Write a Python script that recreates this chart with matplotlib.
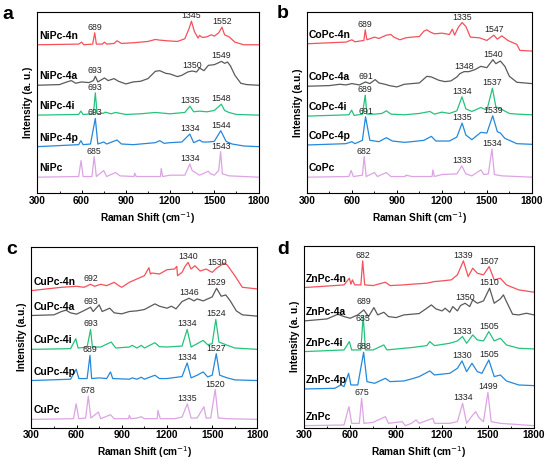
import numpy as np
import matplotlib
matplotlib.use('Agg')
import matplotlib.pyplot as plt
from matplotlib.ticker import MultipleLocator

plt.rcParams['font.family'] = ['Liberation Sans', 'DejaVu Sans']

# colours top -> bottom
colors = ['#f5505c', '#5a5a5a', '#25c27c', '#2488dc', '#dca4e4']

# ---------------- panel a : NiPc ----------------
names_a = ['NiPc-4n', 'NiPc-4a', 'NiPc-4i', 'NiPc-4p', 'NiPc']
offsets_a = [447, 325, 235, 140, 48]
spec_a = [
    ([300, 580, 600, 615, 675, 689, 700, 740, 755, 770, 820, 840, 870, 950, 1000, 1050, 1100, 1130, 1180, 1250, 1300,
      1330, 1345, 1365, 1390, 1400, 1420, 1450, 1480, 1500, 1530, 1552, 1570, 1600, 1640, 1700, 1800],
     [0, 2, 8, 0, 2, 36, 2, 2, 8, 2, 4, 12, 4, 6, 8, 10, 16, 14, 12, 10, 18,
      50, 71, 40, 20, 28, 22, 24, 30, 26, 36, 53, 30, 24, 8, 0, 0]),
    ([300, 450, 500, 530, 560, 600, 650, 680, 693, 710, 755, 780, 820, 850, 900, 950, 1000, 1050, 1100, 1130, 1170,
      1200, 1250, 1280, 1320, 1350, 1380, 1400, 1430, 1460, 1500, 1520, 1549, 1570, 1590, 1610, 1640, 1680, 1720, 1800],
     [0, 2, 10, 14, 6, 10, 8, 14, 27, 10, 22, 14, 20, 12, 4, 10, 12, 20, 42, 44, 36,
      34, 26, 30, 40, 43, 40, 52, 44, 60, 62, 66, 72, 66, 70, 58, 30, 6, 2, 0]),
    ([300, 580, 595, 610, 680, 693, 705, 750, 760, 800, 830, 900, 1000, 1100, 1200, 1300, 1335, 1360, 1400, 1450,
      1500, 1548, 1570, 1600, 1650, 1800],
     [0, 2, 12, 2, 4, 67, 4, 6, 9, 4, 8, 2, 4, 8, 4, 8, 27, 10, 12, 10,
      14, 33, 14, 8, 2, 0]),
    ([300, 580, 595, 610, 660, 693, 710, 750, 770, 840, 870, 950, 1000, 1050, 1100, 1130, 1160, 1200, 1280, 1334,
      1360, 1400, 1420, 1460, 1500, 1544, 1580, 1620, 1700, 1800],
     [0, 6, 18, 6, 8, 85, 8, 14, 8, 20, 8, 6, 8, 10, 12, 18, 10, 12, 14, 38,
      12, 20, 14, 14, 16, 48, 16, 8, 2, 0]),
    ([300, 580, 596, 610, 670, 685, 700, 750, 770, 830, 860, 955, 960, 970, 1135, 1140, 1150, 1200, 1300, 1325,
      1334, 1350, 1400, 1460, 1475, 1500, 1530, 1543, 1555, 1600, 1800],
     [0, 2, 50, 2, 2, 62, 2, 20, 2, 14, 4, 2, 12, 2, 2, 26, 2, 6, 6, 30,
      40, 20, 6, 18, 10, 6, 20, 77, 10, 4, 0]),
]
peaks_a = [[689, 1345, 1552], [693, 1350, 1549], [693, 1335, 1548], [693, 1334, 1544], [685, 1334, 1543]]

# ---------------- panel b : CoPc ----------------
names_b = ['CoPc-4n', 'CoPc-4a', 'CoPc-4i', 'CoPc-4p', 'CoPc']
offsets_b = [450, 322, 232, 145, 48]
spec_b = [
    ([300, 400, 500, 560, 600, 620, 680, 689, 700, 750, 780, 830, 860, 880, 920, 960, 1000, 1050, 1080, 1100, 1120,
      1150, 1200, 1250, 1270, 1285, 1310, 1335, 1360, 1390, 1450, 1500, 1547, 1570, 1600, 1640, 1700, 1720, 1800],
     [0, 2, 4, 5, 12, 6, 10, 42, 12, 20, 16, 26, 28, 20, 12, 18, 20, 22, 38, 42, 36,
      30, 32, 28, 44, 26, 50, 64, 52, 20, 18, 10, 26, 14, 24, 10, -2, -20, -22]),
    ([300, 450, 520, 560, 600, 650, 691, 720, 755, 780, 820, 850, 900, 950, 1000, 1050, 1100, 1130, 1180, 1220,
      1260, 1300, 1320, 1348, 1380, 1420, 1460, 1500, 1540, 1560, 1590, 1620, 1650, 1700, 1750, 1800],
     [0, 2, 6, 4, 8, 4, 13, 8, 20, 10, 6, 2, -2, 6, 8, 10, 30, 28, 18, 14,
      16, 28, 38, 44, 44, 50, 60, 56, 80, 68, 76, 60, 30, 12, 10, 8]),
    ([300, 580, 598, 615, 670, 689, 700, 750, 800, 830, 860, 950, 1000, 1050, 1120, 1150, 1200, 1250, 1300, 1334,
      1360, 1400, 1460, 1500, 1537, 1560, 1600, 1650, 1700, 1800],
     [0, 4, 18, 2, 6, 63, 6, 6, 8, 16, 6, 4, 6, 8, 14, 6, 12, 8, 16, 58,
      22, 14, 26, 18, 84, 28, 20, 8, 6, 4]),
    ([300, 560, 600, 620, 670, 691, 720, 780, 830, 870, 950, 1000, 1080, 1130, 1160, 1250, 1300, 1335, 1360, 1400,
      1460, 1500, 1539, 1570, 1590, 1620, 1700, 1800],
     [0, 4, 10, 4, 14, 85, 14, 10, 22, 12, 8, 10, 14, 26, 12, 12, 24, 66, 30, 16,
      38, 36, 88, 40, 36, 20, 4, 2]),
    ([300, 580, 595, 610, 670, 682, 695, 750, 770, 830, 860, 955, 960, 1000, 1135, 1140, 1150, 1200, 1300, 1333,
      1360, 1400, 1460, 1480, 1510, 1534, 1550, 1600, 1800],
     [0, 2, 20, 2, 6, 62, 2, 14, 2, 14, 2, 2, 6, 2, 2, 22, 2, 8, 10, 34,
      10, 4, 22, 8, 10, 85, 8, 4, 0]),
]
peaks_b = [[689, 1335, 1547], [691, 1348, 1540], [689, 1334, 1537], [691, 1335, 1539], [682, 1333, 1534]]

# ---------------- panel c : CuPc ----------------
names_c = ['CuPc-4n', 'CuPc-4a', 'CuPc-4i', 'CuPc-4p', 'CuPc']
offsets_c = [413, 338, 236, 142, 25]
spec_c = [
    ([300, 400, 500, 600, 650, 692, 720, 760, 800, 850, 880, 900, 950, 1000, 1050, 1080, 1090, 1100, 1150, 1200,
      1250, 1265, 1270, 1300, 1320, 1340, 1360, 1385, 1420, 1460, 1500, 1530, 1580, 1600, 1650, 1700, 1800],
     [0, 5, 10, 13, 10, 19, 13, 19, 15, 25, 15, 10, 25, 35, 45, 69, 50, 53, 50, 63,
      65, 73, 45, 55, 73, 85, 65, 75, 59, 65, 55, 68, 83, 77, 45, 10, 5]),
    ([300, 450, 500, 530, 560, 600, 650, 693, 710, 750, 770, 820, 850, 900, 950, 1000, 1050, 1120, 1150, 1200,
      1230, 1260, 1300, 1346, 1380, 1400, 1440, 1480, 1500, 1529, 1560, 1590, 1620, 1660, 1700, 1800],
     [0, 2, 12, 16, 8, 4, 15, 25, 12, 32, 12, 22, 8, 5, 12, 14, 18, 35, 28, 22,
      28, 20, 42, 52, 44, 50, 44, 52, 56, 82, 58, 62, 44, 14, 2, -2]),
    ([300, 560, 595, 610, 670, 693, 705, 760, 830, 860, 950, 970, 1000, 1030, 1050, 1120, 1150, 1200, 1300, 1334,
      1360, 1400, 1440, 1470, 1500, 1524, 1545, 1590, 1650, 1800],
     [0, 2, 32, 4, 7, 60, 7, 7, 22, 4, 7, 12, 4, 12, 4, 20, 8, 7, 10, 60,
      7, 17, 27, 14, 17, 90, 22, 14, 4, 0]),
    ([300, 560, 598, 615, 670, 689, 700, 750, 800, 825, 840, 950, 970, 1000, 1030, 1050, 1120, 1150, 1200, 1300,
      1334, 1360, 1400, 1440, 1470, 1500, 1527, 1550, 1600, 1650, 1800],
     [0, 4, 34, 6, 6, 76, 6, 8, 6, 26, 6, 4, 8, 4, 10, 4, 16, 6, 6, 12,
      53, 8, 16, 26, 11, 16, 81, 16, 8, 2, 0]),
    ([300, 580, 597, 615, 660, 678, 695, 745, 760, 825, 850, 945, 950, 960, 1000, 1030, 1050, 1135, 1140, 1155,
      1250, 1300, 1335, 1360, 1400, 1445, 1460, 1490, 1520, 1540, 1600, 1800],
     [0, 2, 47, 2, 4, 70, 4, 22, 2, 14, 2, 2, 12, 2, 4, 8, 2, 2, 27, 2,
      2, 7, 47, 4, 4, 38, 4, 4, 90, 4, 2, 0]),
]
peaks_c = [[692, 1340, 1530], [693, 1346, 1529], [693, 1334, 1524], [689, 1334, 1527], [678, 1335, 1520]]

# ---------------- panel d : ZnPc ----------------
names_d = ['ZnPc-4n', 'ZnPc-4a', 'ZnPc-4i', 'ZnPc-4p', 'ZnPc']
offsets_d = [420, 320, 228, 116, 6]
spec_d = [
    ([300, 400, 500, 560, 595, 605, 615, 630, 670, 682, 695, 750, 830, 860, 950, 1000, 1100, 1150, 1200, 1260,
      1300, 1339, 1370, 1400, 1430, 1470, 1507, 1540, 1580, 1620, 1700, 1800],
     [0, 3, 6, 8, 28, 10, 23, 8, 8, 80, 8, 6, 16, 6, 8, 10, 13, 18, 20, 23,
      38, 80, 33, 58, 43, 38, 63, 23, 28, 8, -7, -14]),
    ([300, 450, 520, 560, 600, 650, 689, 720, 755, 780, 820, 850, 900, 950, 1000, 1050, 1100, 1130, 1160, 1200,
      1220, 1250, 1270, 1300, 1320, 1350, 1380, 1400, 1430, 1470, 1510, 1540, 1580, 1600, 1620, 1660, 1700, 1750, 1800],
     [0, 6, 20, 13, 8, 18, 33, 13, 40, 18, 26, 13, 10, 18, 20, 22, 38, 48, 36, 30,
      38, 26, 43, 30, 46, 53, 43, 63, 53, 60, 98, 53, 66, 78, 58, 20, 18, 23, 18]),
    ([300, 560, 595, 610, 670, 685, 700, 750, 820, 840, 950, 1000, 1100, 1120, 1150, 1250, 1300, 1333, 1360, 1400,
      1430, 1470, 1505, 1540, 1580, 1620, 1700, 1800],
     [0, 5, 30, 5, 5, 108, 5, 5, 20, 5, 10, 12, 18, 30, 18, 25, 32, 45, 25, 50,
      35, 32, 60, 32, 40, 20, 10, 8]),
    ([300, 500, 540, 560, 590, 605, 650, 688, 710, 760, 830, 860, 950, 1000, 1050, 1120, 1150, 1250, 1300, 1330,
      1360, 1395, 1430, 1460, 1505, 1540, 1580, 1620, 1700, 1800],
     [0, 2, 12, 7, 47, 12, 12, 110, 22, 17, 32, 22, 24, 30, 37, 54, 42, 47, 62, 84,
      52, 77, 52, 47, 87, 37, 42, 24, 12, 10]),
    ([300, 560, 592, 610, 660, 675, 690, 750, 830, 850, 940, 960, 1000, 1030, 1050, 1140, 1150, 1250, 1300, 1334,
      1360, 1400, 1420, 1440, 1470, 1499, 1520, 1580, 1800],
     [0, 2, 57, 7, 7, 82, 7, 10, 27, 7, 12, 0, 7, 17, 7, 22, 7, 7, 12, 67,
      7, 32, 42, 24, 12, 100, 12, 7, 0]),
]
peaks_d = [[682, 1339, 1507], [689, 1350, 1510], [685, 1333, 1505], [688, 1330, 1505], [675, 1334, 1499]]

# labels that sit lower than usual (panel, curve, peak): shift in a.u.
label_shift = {('d', 2, 685): -26, ('d', 1, 689): 8}

panels = [
    ('a', names_a, offsets_a, spec_a, peaks_a, 'Intensity (a. u.)', [0.068, 0.590, 0.402, 0.384], (0.005, 0.969)),
    ('b', names_b, offsets_b, spec_b, peaks_b, 'Intensity (a.u.)', [0.558, 0.590, 0.409, 0.384], (0.504, 0.971)),
    ('c', names_c, offsets_c, spec_c, peaks_c, 'Intensity (a.u.)', [0.057, 0.092, 0.411, 0.384], (0.012, 0.471)),
    ('d', names_d, offsets_d, spec_d, peaks_d, 'Intensity (a. u.)', [0.553, 0.092, 0.418, 0.386], (0.505, 0.471)),
]

fig = plt.figure(figsize=(5.5, 4.71), dpi=100)

for letter, names, offsets, spec, peaks, ylab, rect, lpos in panels:
    ax = fig.add_axes(rect)
    for i, (xs, ys) in enumerate(spec):
        xs = np.array(xs)
        ys = np.array(ys) + offsets[i]
        ax.plot(xs, ys, color=colors[i], lw=0.9)
        ax.text(312, offsets[i] + 12, names[i], fontsize=7.5, fontweight='bold', va='bottom', ha='left')
        for p in peaks[i]:
            near = ys[np.abs(xs - p) <= 20]
            top = near.max() if len(near) else np.interp(p, xs, ys)
            top += label_shift.get((letter, i, p), 0)
            ax.text(p, top + 3, str(p), fontsize=6.3, ha='center', va='bottom', color='#222222')
    ax.set_xlim(300, 1800)
    ax.set_ylim(0, 545)
    ax.set_xticks([300, 600, 900, 1200, 1500, 1800])
    ax.xaxis.set_minor_locator(MultipleLocator(150))
    ax.tick_params(axis='x', direction='in', length=2.5, width=0.7, labelsize=7.3, pad=2)
    ax.tick_params(axis='x', which='minor', direction='in', length=1.5, width=0.6)
    for lab in ax.get_xticklabels():
        lab.set_fontweight('bold')
    ax.set_yticks([])
    for s in ax.spines.values():
        s.set_linewidth(0.8)
    ax.set_xlabel('Raman Shift (cm$^{-1}$)', fontsize=7.3, fontweight='bold', labelpad=3)
    ax.set_ylabel(ylab, fontsize=7.3, fontweight='bold', labelpad=3)
    fig.text(lpos[0], lpos[1], letter, fontsize=14, fontweight='bold', va='center', ha='left')

fig.savefig('out.png', dpi=100)
